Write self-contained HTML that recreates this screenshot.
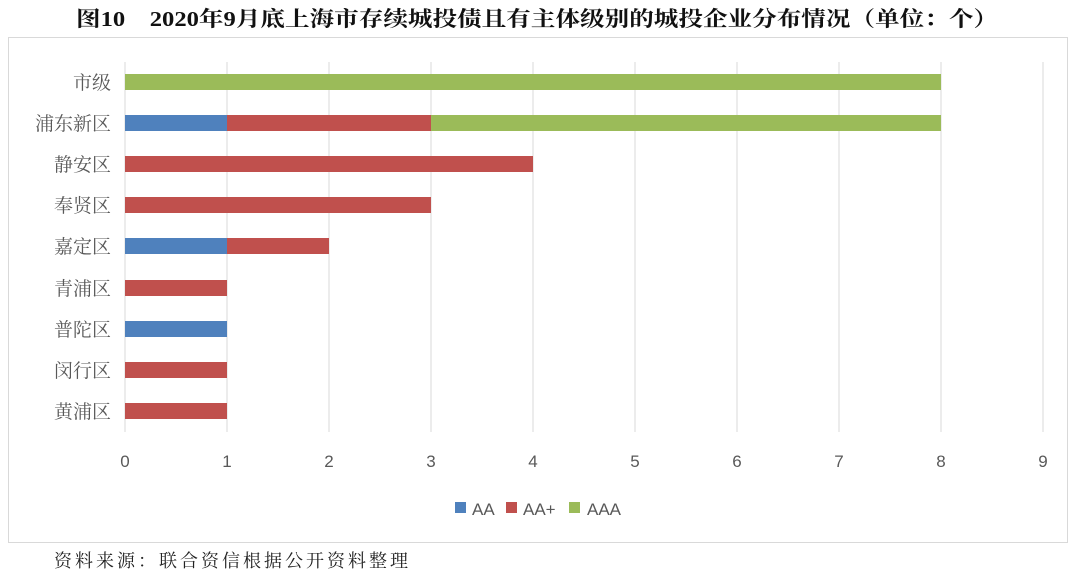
<!DOCTYPE html>
<html><head><meta charset="utf-8"><style>
html,body{margin:0;padding:0;background:#fff;}
svg{display:block;}
</style></head><body>
<svg width="1080" height="578" xmlns="http://www.w3.org/2000/svg">
<text x="76" y="26" textLength="922" lengthAdjust="spacingAndGlyphs" font-family="Liberation Serif, Noto Serif CJK SC, serif" font-size="21" font-weight="bold" fill="#111">图10　2020年9月底上海市存续城投债且有主体级别的城投企业分布情况（单位：个）</text>
<rect x="8.5" y="37.5" width="1059" height="505" fill="#fff" stroke="#d9d9d9"/>
<g stroke="#d9d9d9" stroke-width="1">
<line x1="125" y1="62" x2="125" y2="432"/>
<line x1="227" y1="62" x2="227" y2="432"/>
<line x1="329" y1="62" x2="329" y2="432"/>
<line x1="431" y1="62" x2="431" y2="432"/>
<line x1="533" y1="62" x2="533" y2="432"/>
<line x1="635" y1="62" x2="635" y2="432"/>
<line x1="737" y1="62" x2="737" y2="432"/>
<line x1="839" y1="62" x2="839" y2="432"/>
<line x1="941" y1="62" x2="941" y2="432"/>
<line x1="1043" y1="62" x2="1043" y2="432"/>
</g>
<g>
<rect x="125" y="74" width="816" height="16" fill="#9bbb59"/>
<rect x="125" y="115" width="102" height="16" fill="#4f81bd"/>
<rect x="227" y="115" width="204" height="16" fill="#c0504d"/>
<rect x="431" y="115" width="510" height="16" fill="#9bbb59"/>
<rect x="125" y="156" width="408" height="16" fill="#c0504d"/>
<rect x="125" y="197" width="306" height="16" fill="#c0504d"/>
<rect x="125" y="238" width="102" height="16" fill="#4f81bd"/>
<rect x="227" y="238" width="102" height="16" fill="#c0504d"/>
<rect x="125" y="280" width="102" height="16" fill="#c0504d"/>
<rect x="125" y="321" width="102" height="16" fill="#4f81bd"/>
<rect x="125" y="362" width="102" height="16" fill="#c0504d"/>
<rect x="125" y="403" width="102" height="16" fill="#c0504d"/>
</g>
<g font-family="Liberation Serif, Noto Serif CJK SC, serif" font-size="19" fill="#595959" text-anchor="end">
<text x="111" y="89">市级</text>
<text x="111" y="130">浦东新区</text>
<text x="111" y="171">静安区</text>
<text x="111" y="212">奉贤区</text>
<text x="111" y="253">嘉定区</text>
<text x="111" y="295">青浦区</text>
<text x="111" y="336">普陀区</text>
<text x="111" y="377">闵行区</text>
<text x="111" y="418">黄浦区</text>
</g>
<g font-family="Liberation Sans, sans-serif" font-size="17" fill="#595959" text-anchor="middle">
<text x="125" y="467">0</text><text x="227" y="467">1</text><text x="329" y="467">2</text>
<text x="431" y="467">3</text><text x="533" y="467">4</text><text x="635" y="467">5</text>
<text x="737" y="467">6</text><text x="839" y="467">7</text><text x="941" y="467">8</text>
<text x="1043" y="467">9</text>
</g>
<g font-family="Liberation Sans, sans-serif" font-size="17" fill="#595959">
<rect x="455" y="502" width="11" height="11" fill="#4f81bd"/><text x="472" y="515">AA</text>
<rect x="506" y="502" width="11" height="11" fill="#c0504d"/><text x="523" y="515">AA+</text>
<rect x="569" y="502" width="11" height="11" fill="#9bbb59"/><text x="587" y="515">AAA</text>
</g>
<text x="54" y="567" textLength="354" lengthAdjust="spacing" font-family="Liberation Serif, Noto Serif CJK SC, serif" font-size="18" fill="#222">资料来源：联合资信根据公开资料整理</text>
</svg>
</body></html>
